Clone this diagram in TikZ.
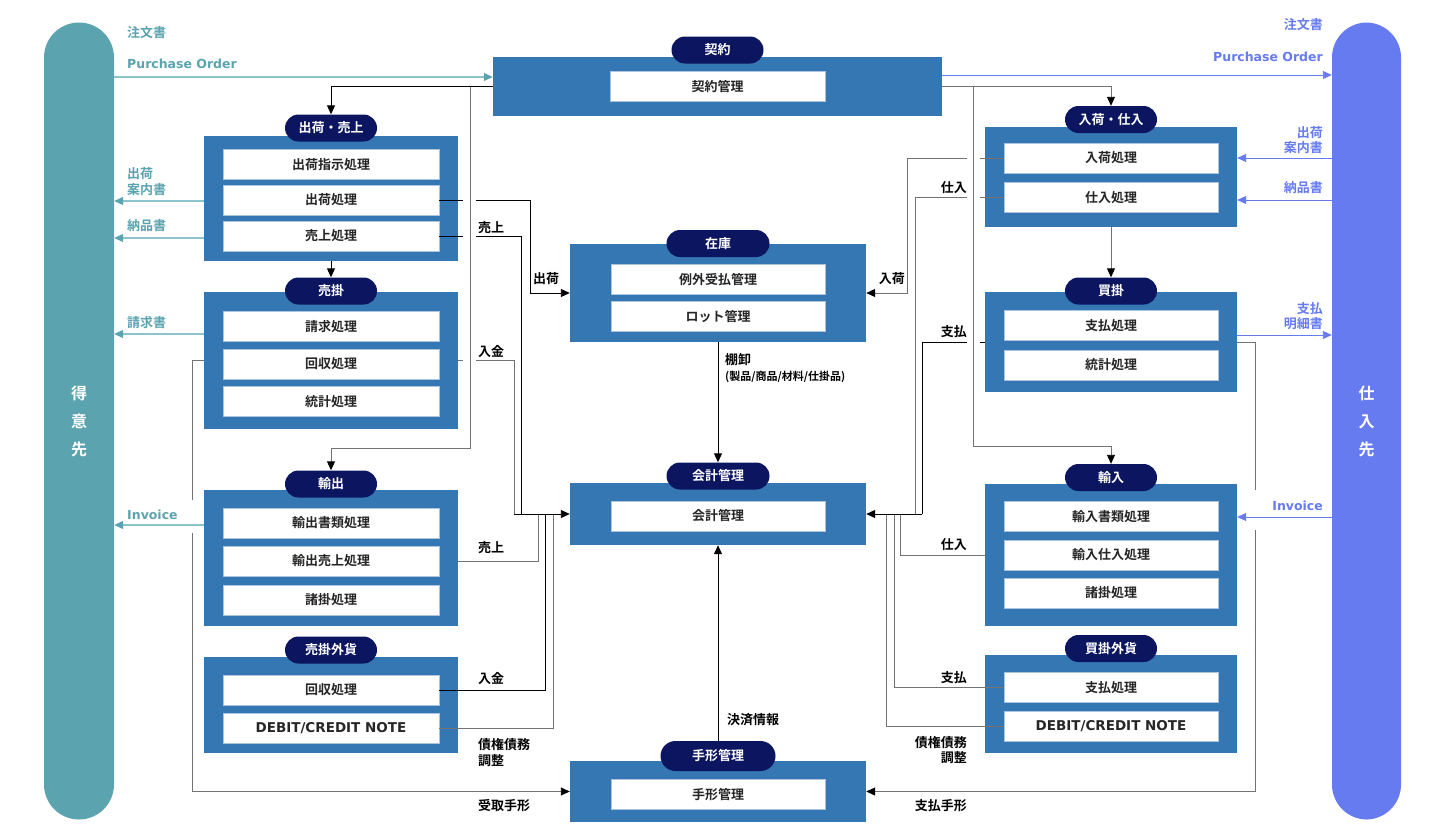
\documentclass[tikz,border=0pt]{standalone}
\usepackage{fontspec}
\setmainfont{Noto Sans CJK JP}[BoldFont={Noto Sans CJK JP Bold}]
\newfontfamily\latinfont{DejaVu Sans}
\usetikzlibrary{arrows.meta}

\definecolor{custteal}{RGB}{91,163,174}
\definecolor{custline}{RGB}{140,196,204}
\definecolor{suppblue}{RGB}{102,123,239}
\definecolor{boxblue}{RGB}{52,119,178}
\definecolor{navy}{RGB}{12,22,96}
\definecolor{itemedge}{RGB}{170,195,225}

\begin{document}
\begin{tikzpicture}[x=1pt,y=-1pt]
      \tikzstyle{unitbox}=[rectangle,fill=boxblue,inner sep=0pt,minimum width=254pt]
      \tikzstyle{procbox}=[rectangle,fill=white,draw=itemedge,line width=0.6pt,inner sep=0pt,minimum width=216pt,minimum height=30pt,text=black!85,font=\bfseries\fontsize{13}{15}\selectfont]
      \tikzstyle{pill}=[rectangle,rounded corners=13.5pt,fill=navy,text=white,minimum width=92pt,minimum height=27pt,inner sep=0pt,font=\bfseries\fontsize{13}{15}\selectfont]
      \tikzstyle{endpill}=[rectangle,rounded corners=35pt,minimum width=70pt,minimum height=797pt,inner sep=0pt,text=white,align=center,font=\bfseries\fontsize{16}{28}\selectfont]
      \tikzstyle{lbl}=[inner sep=0pt,font=\bfseries\fontsize{13}{15.5}\selectfont]
      \tikzstyle{latinlbl}=[inner sep=0pt,font=\latinfont\bfseries\fontsize{12.5}{15}\selectfont]
      \tikzstyle{conn}=[line width=0.9pt,black]
      \tikzstyle{conng}=[line width=0.9pt,black!55]
      \tikzstyle{arr}=[-{Triangle[length=9pt,width=8pt,color=black]}]
      \tikzstyle{custarr}=[custline,line width=1.2pt,-{Triangle[length=9pt,width=8pt,color=custteal]}]
      \tikzstyle{supparr}=[suppblue,line width=0.9pt,-{Triangle[length=9pt,width=8pt]}]
      \useasboundingbox (0,0) rectangle (1441,838);

      % customer and supplier
      \node[endpill,fill=custteal] (cust) at (79,421) {得\\意\\先};
      \node[endpill,fill=suppblue,minimum width=69pt] (supp) at (1366.5,421) {仕\\入\\先};

      % contract
      \node[unitbox,minimum width=449pt,minimum height=59pt] (kyk) at (717.5,86.5) {};
      \node[pill] (kykP) at (717.5,50) {契約};
      \node[procbox,minimum width=215pt] (kyk1) at (717.5,86.5) {契約管理};

      % left column
      \node[unitbox,minimum height=125pt] (ship) at (331,198.5) {};
      \node[pill] (shipP) at (331,128) {出荷・売上};
      \node[procbox] (ship1) at (331,164.5) {出荷指示処理};
      \node[procbox] (ship2) at (331,200) {出荷処理};
      \node[procbox] (ship3) at (331,236) {売上処理};

      \node[unitbox,minimum height=137pt] (ar) at (331,360.5) {};
      \node[pill] (arP) at (331,291) {売掛};
      \node[procbox] (ar1) at (331,326.5) {請求処理};
      \node[procbox] (ar2) at (331,364) {回収処理};
      \node[procbox] (ar3) at (331,401.5) {統計処理};

      \node[unitbox,minimum height=136pt] (exp) at (331,558) {};
      \node[pill] (expP) at (331,484) {輸出};
      \node[procbox] (exp1) at (331,523) {輸出書類処理};
      \node[procbox] (exp2) at (331,561) {輸出売上処理};
      \node[procbox] (exp3) at (331,600) {諸掛処理};

      \node[unitbox,minimum height=96pt] (arfx) at (331,705) {};
      \node[pill] (arfxP) at (331,650) {売掛外貨};
      \node[procbox] (arfx1) at (331,690) {回収処理};
      \node[procbox,font=\latinfont\bfseries\fontsize{13.5}{15}\selectfont] (arfx2) at (331,728) {DEBIT/CREDIT NOTE};

      % right column
      \node[unitbox,minimum width=252pt,minimum height=100pt] (recv) at (1111,177) {};
      \node[pill] (recvP) at (1111,119.5) {入荷・仕入};
      \node[procbox,minimum width=214pt] (recv1) at (1111,158) {入荷処理};
      \node[procbox,minimum width=214pt] (recv2) at (1111,197.5) {仕入処理};

      \node[unitbox,minimum width=252pt,minimum height=100pt] (ap) at (1111,342) {};
      \node[pill] (apP) at (1111,291) {買掛};
      \node[procbox,minimum width=214pt] (ap1) at (1111,325.5) {支払処理};
      \node[procbox,minimum width=214pt] (ap2) at (1111,365) {統計処理};

      \node[unitbox,minimum width=252pt,minimum height=142pt] (imp) at (1111,555) {};
      \node[pill] (impP) at (1111,477.5) {輸入};
      \node[procbox,minimum width=214pt] (imp1) at (1111,516.5) {輸入書類処理};
      \node[procbox,minimum width=214pt] (imp2) at (1111,555) {輸入仕入処理};
      \node[procbox,minimum width=214pt] (imp3) at (1111,593) {諸掛処理};

      \node[unitbox,minimum width=252pt,minimum height=98pt] (apfx) at (1111,704) {};
      \node[pill] (apfxP) at (1111,648.5) {買掛外貨};
      \node[procbox,minimum width=214pt] (apfx1) at (1111,687.5) {支払処理};
      \node[procbox,minimum width=214pt,font=\latinfont\bfseries\fontsize{13.5}{15}\selectfont] (apfx2) at (1111,726) {DEBIT/CREDIT NOTE};

      % centre column
      \node[unitbox,minimum width=296pt,minimum height=98pt] (stock) at (718,293) {};
      \node[pill,minimum width=103pt] (stockP) at (718,243.5) {在庫};
      \node[procbox,minimum width=214pt] (stock1) at (718,279.5) {例外受払管理};
      \node[procbox,minimum width=214pt] (stock2) at (718,316.5) {ロット管理};

      \node[unitbox,minimum width=296pt,minimum height=62pt] (acct) at (718,514) {};
      \node[pill,minimum width=103pt] (acctP) at (718,476) {会計管理};
      \node[procbox,minimum width=214pt] (acct1) at (718,516) {会計管理};

      \node[unitbox,minimum width=296pt,minimum height=61pt] (bill) at (718,791.5) {};
      \node[pill,minimum width=115pt,minimum height=30pt,rounded corners=15pt] (billP) at (718,756) {手形管理};
      \node[procbox,minimum width=214pt] (bill1) at (718,794.5) {手形管理};

      % documents to and from the customer
      \draw[custarr] (cust.east |- 0,77) -- (kyk.west |- 0,77);
      \draw[custarr] (ship.west |- 0,201) -- (cust.east |- 0,201);
      \draw[custarr] (ship.west |- 0,238) -- (cust.east |- 0,238);
      \draw[custarr] (ar.west |- 0,334) -- (cust.east |- 0,334);
      \draw[custarr] (exp.west |- 0,525) -- (cust.east |- 0,525);
      \node[lbl,text=custteal,anchor=west] (poL1) at (127,33) {注文書};
      \node[latinlbl,text=custteal,anchor=west] (poL2) at (127,64) {Purchase Order};
      \node[lbl,text=custteal,anchor=west,align=left] (shipL) at (127,181.5) {出荷\\案内書};
      \node[lbl,text=custteal,anchor=west] (dlvL) at (127,226) {納品書};
      \node[lbl,text=custteal,anchor=west] (reqL) at (127,323) {請求書};
      \node[latinlbl,text=custteal,anchor=west] (invL) at (127,515) {Invoice};

      % documents to and from the supplier
      \draw[supparr] (kyk.east |- 0,75) -- (supp.west |- 0,75);
      \draw[supparr] (supp.west |- 0,158) -- (recv.east |- 0,158);
      \draw[supparr] (supp.west |- 0,200) -- (recv.east |- 0,200);
      \draw[supparr] (ap.east |- 0,335) -- (supp.west |- 0,335);
      \draw[supparr] (supp.west |- 0,517) -- (imp.east |- 0,517);
      \node[lbl,text=suppblue,anchor=east] (poR1) at (1323,25) {注文書};
      \node[latinlbl,text=suppblue,anchor=east] (poR2) at (1323,57) {Purchase Order};
      \node[lbl,text=suppblue,anchor=east,align=right] (shipR) at (1323,140) {出荷\\案内書};
      \node[lbl,text=suppblue,anchor=east] (dlvR) at (1323,188) {納品書};
      \node[lbl,text=suppblue,anchor=east,align=right] (payR) at (1323,316) {支払\\明細書};
      \node[latinlbl,text=suppblue,anchor=east] (invR) at (1323,506) {Invoice};

      % contract to the units
      \coordinate (kL) at (470,86.5);
      \coordinate (kR) at (973,86.5);
      \draw[conn,arr] (kyk.west) -| (shipP.north);
      \draw[conng,arr] (kL) -- (470,448) -| (expP.north);
      \draw[conng,arr] (kyk.east) -| (recvP.north);
      \draw[conng,arr] (kR) -- (973,446) -| (impP.north);
      \draw[conn,arr] (ship.south) -- (arP.north);
      \draw[conng,arr] (recv.south) -- (apP.north);

      % left side into stock and accounting
      \draw[conn] (ship2.east) -- (463,200);
      \draw[conn,arr] (476,200) -| (530,293) -- (stock.west);
      \draw[conn] (ship3.east) -- (463,236);
      \draw[conn] (476,236) -| (521,514);
      \draw[conng] (ar.east) -- (463,360.5);
      \draw[conng] (476,360.5) -| (514,514);
      \draw[conng] (exp.east |- exp2.east) -| (538,514);
      \draw[conn] (arfx1.east) -| (545,514);
      \draw[conng] (arfx2.east) -| (553,514);
      \draw[conn,arr] (514,514) -- (acct.west);

      % right side into stock and accounting
      \draw[conng] (recv1.west) -- (980,158);
      \draw[conng,arr] (967,158) -| (907,293) -- (stock.east);
      \draw[conng] (recv2.west) -- (980,197.5);
      \draw[conng] (967,197.5) -| (915,514);
      \draw[conn] (ap.west) -- (980,342);
      \draw[conn] (967,342) -| (922,514);
      \draw[conng] (imp.west |- imp2.west) -| (900,514);
      \draw[conng] (apfx1.west) -| (894,514);
      \draw[conng] (apfx2.west) -| (886,514);
      \draw[conn,arr] (922,514) -- (acct.east);

      % centre
      \draw[conn,arr] (stock.south) -- (acctP.north);
      \draw[conn,arr] (billP.north) -- (acct.south);

      % bills
      \draw[conng] (ar.west) -| (192,500);
      \draw[conng,arr] (192,533) |- (bill.west);
      \draw[conng] (ap.east) -| (1255,490);
      \draw[conng,arr] (1255,530) |- (bill.east);

      % flow labels
      \node[lbl,anchor=west] (lUri1) at (478,228) {売上};
      \node[lbl,anchor=west] (lShk) at (533,279) {出荷};
      \node[lbl,anchor=west] (lNyu1) at (478,352) {入金};
      \node[lbl,anchor=west] (lUri2) at (478,548) {売上};
      \node[lbl,anchor=west] (lNyu2) at (478,679) {入金};
      \node[lbl,anchor=west,align=left] (lAdj) at (478,752.5) {債権債務\\調整};
      \node[lbl,anchor=west] (lRcv) at (478,806) {受取手形};
      \node[lbl,anchor=west] (lTana) at (725,360) {棚卸};
      \node[inner sep=0pt,anchor=west,font=\bfseries\fontsize{11}{13}\selectfont] (lTana2) at (725,377) {(製品/商品/材料/仕掛品)};
      \node[lbl,anchor=west] (lSettle) at (727,720) {決済情報};
      \node[lbl,anchor=east] (rNyk) at (905,279) {入荷};
      \node[lbl,anchor=east] (rShi1) at (967,188) {仕入};
      \node[lbl,anchor=east] (rPay1) at (967,332) {支払};
      \node[lbl,anchor=east] (rShi2) at (967,545) {仕入};
      \node[lbl,anchor=east] (rPay2) at (967,678) {支払};
      \node[lbl,anchor=east,align=right] (rAdj) at (967,750) {債権債務\\調整};
      \node[lbl,anchor=east] (rBill) at (967,806) {支払手形};
\end{tikzpicture}
\end{document}
